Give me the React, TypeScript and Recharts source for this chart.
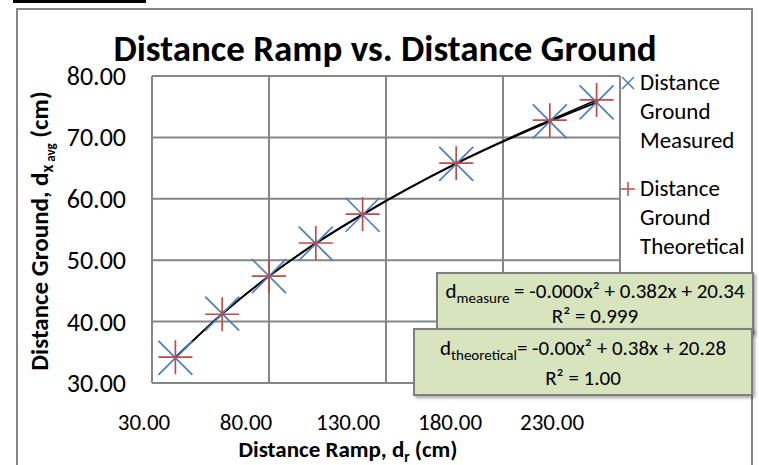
import React from 'react';
import { ComposedChart, Scatter, Line, XAxis, YAxis, CartesianGrid } from 'recharts';

const rampDistance = [40, 60, 80, 100, 120, 160, 200, 220];
const groundMeasured = [34.1, 41.3, 47.4, 52.7, 57.4, 65.7, 72.6, 75.7];
const groundTheoretical = [34.2, 41.2, 47.4, 52.8, 57.5, 65.8, 72.8, 76.1];
const xTicks = [30, 80, 130, 180, 230];
const yTicks = [30, 40, 50, 60, 70, 80];
const seriesNames = ['Distance Ground Measured', 'Distance Ground Theoretical'];
const titleText = 'Distance Ramp vs. Distance Ground';

const data = rampDistance.map((x, i) => ({ x, measured: groundMeasured[i], theoretical: groundTheoretical[i] }));

const FONT = "Carlito, Lato, 'Open Sans', sans-serif";
const BLUE = '#4a7ebb';
const RED = '#be4b48';

const XMark = (p: any) => {
  const { cx, cy } = p;
  const r = 17;
  return (
    <g>
      <line x1={cx - r} y1={cy - r} x2={cx + r} y2={cy + r} stroke={BLUE} strokeWidth={1.7} />
      <line x1={cx - r} y1={cy + r} x2={cx + r} y2={cy - r} stroke={BLUE} strokeWidth={1.7} />
    </g>
  );
};

const PlusMark = (p: any) => {
  const { cx, cy } = p;
  const r = 17;
  return (
    <g>
      <line x1={cx - r} y1={cy} x2={cx + r} y2={cy} stroke={RED} strokeWidth={1.7} />
      <line x1={cx} y1={cy - r} x2={cx} y2={cy + r} stroke={RED} strokeWidth={1.7} />
    </g>
  );
};

const XTick = (p: any) => {
  const { x, y, payload } = p;
  const lx = 144 + (x - 152) * 0.872;
  return (
    <text x={lx} y={y + 47} textAnchor="middle" fontFamily={FONT} fontSize={23} fill="#000">
      {Number(payload.value).toFixed(2)}
    </text>
  );
};

const YTick = (p: any) => {
  const { x, y, payload } = p;
  return (
    <text x={x} y={y + 9} textAnchor="end" fontFamily={FONT} fontSize={26} fill="#000">
      {Number(payload.value).toFixed(2)}
    </text>
  );
};

const LegendBlock = () => {
  const lines = [['Distance', 'Ground', 'Measured'], ['Distance', 'Ground', 'Theoretical']];
  return (
    <div style={{ position: 'absolute', left: 620, top: 68, fontFamily: FONT, fontSize: 23, color: '#000', lineHeight: '29px' }}>
      {lines.map((ls, i) => (
        <div key={i} style={{ position: 'relative', paddingLeft: 20, marginBottom: i === 0 ? 19 : 0 }} title={seriesNames[i]}>
          <svg width={16} height={16} style={{ position: 'absolute', left: 0, top: 7 }}>
            {i === 0 ? (
              <g stroke={BLUE} strokeWidth={1.5}>
                <line x1={2} y1={2} x2={14} y2={14} />
                <line x1={2} y1={14} x2={14} y2={2} />
              </g>
            ) : (
              <g stroke={RED} strokeWidth={1.5}>
                <line x1={1} y1={8} x2={15} y2={8} />
                <line x1={8} y1={1} x2={8} y2={15} />
              </g>
            )}
          </svg>
          {ls.map((t, j) => (
            <div key={j}>{t}</div>
          ))}
        </div>
      ))}
    </div>
  );
};

const boxStyle: React.CSSProperties = {
  position: 'absolute',
  background: '#d7e4bd',
  border: '2px solid #7f7f7f',
  boxShadow: '2px 2px 3px rgba(0,0,0,0.35)',
  fontFamily: FONT,
  fontSize: 21,
  color: '#000',
  textAlign: 'center',
  boxSizing: 'border-box',
};

const subStyle: React.CSSProperties = { fontSize: 15, verticalAlign: '-5px', lineHeight: 0 };

export default function App() {
  return (
    <div style={{ position: 'absolute', left: 0, top: 0, width: 759, height: 465, background: '#fff', overflow: 'hidden' }}>
      <div style={{ position: 'absolute', left: 13, top: 0, width: 133, height: 3, background: '#000' }} />
      <div style={{ position: 'absolute', left: 16, top: 8, width: 737, height: 480, border: '2px solid #868686', boxSizing: 'border-box' }} />
      <ComposedChart
        width={759}
        height={465}
        data={data}
        margin={{ top: 76, right: 139, bottom: 52, left: 92 }}
        style={{ position: 'absolute', left: 0, top: 0 }}
      >
        <CartesianGrid stroke="#868686" strokeWidth={2} />
        <XAxis
          type="number"
          dataKey="x"
          domain={[30, 230]}
          ticks={xTicks}
          height={30}
          axisLine={{ stroke: '#868686', strokeWidth: 2 }}
          tickLine={false}
          tickSize={0}
          tickMargin={0}
          tick={<XTick />}
          interval={0}
        />
        <YAxis
          type="number"
          domain={[30, 80]}
          ticks={yTicks}
          width={60}
          axisLine={{ stroke: '#868686', strokeWidth: 2 }}
          tickLine={false}
          tickSize={0}
          tickMargin={26}
          tick={<YTick />}
          interval={0}
        />
        <Line type="monotone" dataKey="theoretical" stroke="#000" strokeWidth={1.7} dot={false} legendType="none" isAnimationActive={false} />
        <Line type="monotone" dataKey="measured" stroke="#000" strokeWidth={1.7} dot={false} legendType="none" isAnimationActive={false} />
        <Scatter name={seriesNames[0]} dataKey="measured" shape={<XMark />} isAnimationActive={false} />
        <Scatter name={seriesNames[1]} dataKey="theoretical" shape={<PlusMark />} isAnimationActive={false} />
      </ComposedChart>

      <LegendBlock />

      <svg width={759} height={465} style={{ position: 'absolute', left: 0, top: 0, pointerEvents: 'none' }}>
        <text x={385} y={61} textAnchor="middle" fontFamily={FONT} fontWeight="bold" fontSize={37} fill="#000">
          {titleText}
        </text>
        <text x={348} y={457} textAnchor="middle" fontFamily={FONT} fontWeight="bold" fontSize={23} fill="#000">
          Distance Ramp, d<tspan fontSize={15} dy={5}>r</tspan>
          <tspan dy={-5}> (cm)</tspan>
        </text>
        <text
          x={0}
          y={0}
          transform="translate(48,231) rotate(-90)"
          textAnchor="middle"
          fontFamily={FONT}
          fontWeight="bold"
          fontSize={25}
          fill="#000"
        >
          Distance Ground, d<tspan fontSize={17} dy={5}>x</tspan>
          <tspan fontSize={13} dy={2}> avg</tspan>
          <tspan dy={-7}> (cm)</tspan>
        </text>
      </svg>

      <div style={{ ...boxStyle, left: 436, top: 272, width: 318, height: 62, paddingTop: 5, lineHeight: '25px' }}>
        <div>
          d<sub style={subStyle}>measure</sub> = -0.000x² + 0.382x + 20.34
        </div>
        <div>R² = 0.999</div>
      </div>
      <div style={{ ...boxStyle, left: 413, top: 328, width: 340, height: 68, paddingTop: 3, lineHeight: '30px' }}>
        <div>
          d<sub style={subStyle}>theoretical</sub>= -0.00x² + 0.38x + 20.28
        </div>
        <div>R² = 1.00</div>
      </div>
    </div>
  );
}
